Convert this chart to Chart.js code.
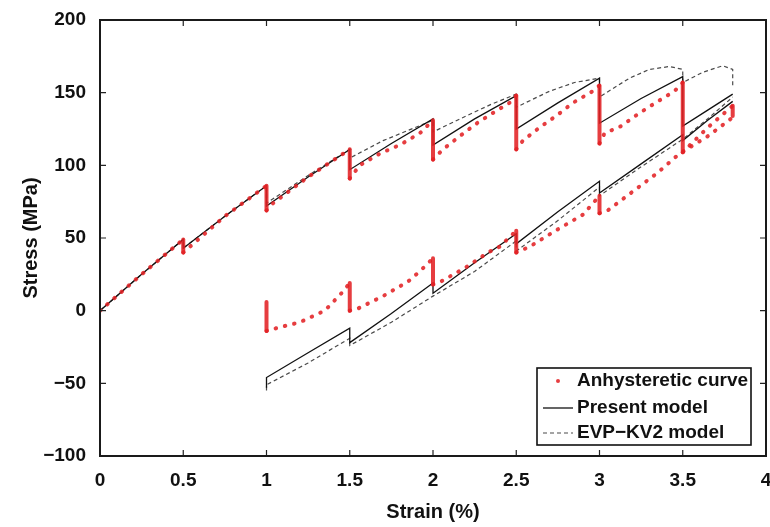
<!DOCTYPE html>
<html>
<head>
<meta charset="utf-8">
<title>Stress vs strain</title>
<script src="https://cdn.jsdelivr.net/npm/chart.js@4.4.0/dist/chart.umd.min.js"></script>
<style>
  html, body { margin: 0; padding: 0; background: #fff; }
</style>
</head>
<body>
<canvas id="stressChart" width="770" height="527"></canvas>
<script>
'use strict';

/* values: [strain %, stress MPa] */
const anhystUpper = [
    [0, 0], [0.25, 25], [0.5, 49], [0.5, 40], [0.54, 44], [0.75, 65], [1.0, 86], [1.0, 69],
    [1.04, 74], [1.25, 92], [1.5, 111], [1.5, 91], [1.56, 100], [1.68, 108], [1.8, 114],
    [1.92, 122], [2.0, 131], [2.0, 104], [2.06, 111], [2.16, 120], [2.27, 129.5], [2.38, 137.5],
    [2.46, 143], [2.5, 148], [2.5, 111], [2.54, 117], [2.64, 126], [2.74, 134], [2.84, 143],
    [2.96, 151], [3.0, 155], [3.0, 115], [3.03, 122], [3.13, 127], [3.24, 136], [3.35, 144],
    [3.45, 151], [3.5, 157], [3.5, 109], [3.65, 126], [3.8, 141], [3.8, 134]
];
const anhystLower = [
    [1.0, 6], [1.0, -14], [1.06, -12], [1.2, -8], [1.35, 0], [1.45, 12], [1.5, 19], [1.5, 0],
    [1.55, 1.5], [1.7, 10], [1.85, 20], [1.92, 27], [2.0, 36], [2.0, 18], [2.04, 19.5],
    [2.2, 30], [2.33, 40], [2.4, 44], [2.5, 55], [2.5, 40], [2.58, 44], [2.75, 56], [2.9, 66],
    [3.0, 79], [3.0, 67], [3.05, 69], [3.2, 82], [3.35, 95], [3.48, 108], [3.65, 120], [3.8, 133]
];
const presentUpper = [
    [0, 0], [0.25, 25], [0.5, 49], [0.5, 43], [0.75, 65], [1.0, 86], [1.0, 72], [1.25, 92],
    [1.5, 111], [1.5, 97], [1.75, 115], [2.0, 132], [2.0, 114], [2.25, 132], [2.5, 148],
    [2.5, 125], [2.75, 143], [3.0, 160], [3.0, 129], [3.25, 146], [3.5, 161], [3.5, 127],
    [3.65, 138], [3.8, 149]
];
const presentLower = [
    [1.0, -53], [1.0, -46], [1.25, -29], [1.5, -12], [1.5, -22], [1.75, -2], [2.0, 19],
    [2.0, 12], [2.25, 33], [2.5, 53], [2.5, 46], [2.75, 68], [3.0, 89], [3.0, 81],
    [3.25, 101], [3.5, 121], [3.5, 117], [3.65, 131], [3.8, 144]
];
const evpUpper = [
    [0, 0], [0.25, 25], [0.5, 49], [0.5, 43], [0.75, 65], [1.0, 86], [1.0, 74], [1.25, 93],
    [1.5, 111], [1.5, 105], [1.7, 117], [1.85, 124], [2.0, 131], [2.0, 123], [2.2, 134],
    [2.35, 142], [2.5, 149], [2.5, 140], [2.7, 151], [2.85, 157], [3.0, 160], [3.0, 147],
    [3.18, 160], [3.3, 166], [3.42, 168], [3.5, 166], [3.5, 157], [3.62, 164], [3.74, 168.5],
    [3.8, 166], [3.8, 153]
];
const evpLower = [
    [1.0, -55], [1.0, -51], [1.25, -36], [1.5, -19], [1.5, -24], [1.75, -8], [2.0, 10],
    [2.25, 27], [2.5, 48], [2.5, 41], [2.75, 62], [3.0, 85], [3.0, 79], [3.25, 99],
    [3.5, 118], [3.65, 132], [3.8, 147]
];

const seriesNames = ['Anhysteretic curve', 'Present model', 'EVP\u2212KV2 model'];
const xTicks = [0, 0.5, 1, 1.5, 2, 2.5, 3, 3.5, 4];
const yTicks = [-100, -50, 0, 50, 100, 150, 200];

const RED = 'rgba(226,34,38,0.88)';
const BLACK = '#111';
const GREY = '#4a4a4a';
const FONT = '"Liberation Sans", Arial, sans-serif';
const dotDash = [0.5, 9];

const toXY = arr => arr.map(p => ({ x: p[0], y: p[1] }));

// red curve: dotted along the path, solid bar where stress relaxes (vertical)
const redLine = (data) => ({
    data: toXY(data),
    borderColor: RED,
    borderWidth: 4,
    borderCapStyle: 'round',
    borderDash: dotDash,
    segment: {
        borderDash: ctx => ctx.p0.parsed.x === ctx.p1.parsed.x ? [] : dotDash
    }
});
const solidLine = (data) => ({
    data: toXY(data), borderColor: BLACK, borderWidth: 1.3
});
const dashLine = (data) => ({
    data: toXY(data), borderColor: GREY, borderWidth: 1.2, borderDash: [4, 3]
});

// Box frame + inward ticks on all 4 sides + legend in lower right
const framePlugin = {
    id: 'frame',
    afterDraw(chart) {
        const c = chart.ctx;
        const a = chart.chartArea;
        const sx = chart.scales.x, sy = chart.scales.y;
        c.save();
        c.strokeStyle = '#222';
        c.lineWidth = 1.2;
        c.beginPath();
        xTicks.forEach(v => {
            const px = sx.getPixelForValue(v);
            c.moveTo(px, a.bottom); c.lineTo(px, a.bottom - 6);
            c.moveTo(px, a.top); c.lineTo(px, a.top + 6);
        });
        yTicks.forEach(v => {
            const py = sy.getPixelForValue(v);
            c.moveTo(a.left, py); c.lineTo(a.left + 6, py);
            c.moveTo(a.right, py); c.lineTo(a.right - 6, py);
        });
        c.stroke();
        c.lineWidth = 2;
        c.strokeStyle = '#1a1a1a';
        c.strokeRect(a.left, a.top, a.right - a.left, a.bottom - a.top);

        // legend
        const w = 214, h = 77;
        const lx = a.right - 15 - w, ly = a.bottom - 11 - h;
        c.fillStyle = '#fff';
        c.fillRect(lx, ly, w, h);
        c.lineWidth = 1.6;
        c.strokeStyle = '#111';
        c.strokeRect(lx, ly, w, h);
        const rows = [ly + 13, ly + 40, ly + 65];
        c.fillStyle = RED;
        c.beginPath();
        c.arc(lx + 21, rows[0], 2, 0, Math.PI * 2);
        c.fill();
        c.strokeStyle = BLACK; c.lineWidth = 1.3;
        c.beginPath(); c.moveTo(lx + 6, rows[1]); c.lineTo(lx + 36, rows[1]); c.stroke();
        c.strokeStyle = GREY; c.lineWidth = 1.2; c.setLineDash([4, 3]);
        c.beginPath(); c.moveTo(lx + 6, rows[2]); c.lineTo(lx + 36, rows[2]); c.stroke();
        c.setLineDash([]);
        c.fillStyle = '#111';
        c.font = 'bold 19px ' + FONT;
        c.textBaseline = 'middle';
        seriesNames.forEach((n, i) => c.fillText(n, lx + 40, rows[i], w - 42));
        c.restore();
    }
};

new Chart(document.getElementById('stressChart'), {
    type: 'scatter',
    data: {
        datasets: [
            redLine(anhystUpper),
            redLine(anhystLower),
            solidLine(presentUpper),
            solidLine(presentLower),
            dashLine(evpUpper),
            dashLine(evpLower)
        ]
    },
    options: {
        responsive: false,
        animation: false,
        showLine: true,
        elements: { point: { radius: 0, hoverRadius: 0 }, line: { tension: 0, fill: false } },
        layout: { padding: { top: 20, right: 4, left: 0, bottom: 0 }, autoPadding: false },
        plugins: { legend: { display: false }, tooltip: { enabled: false } },
        scales: {
            x: {
                type: 'linear', min: 0, max: 4,
                grid: { display: false },
                border: { display: false },
                afterFit: s => { s.height = 71; s.paddingLeft = 0; s.paddingRight = 0; },
                afterBuildTicks: s => { s.ticks = xTicks.map(v => ({ value: v })); },
                ticks: {
                    padding: 5, color: '#111', maxRotation: 0,
                    font: { family: FONT, size: 19, weight: 'bold' },
                    callback: v => String(v)
                },
                title: {
                    display: true, text: 'Strain (%)', color: '#111',
                    font: { family: FONT, size: 20, weight: 'bold' }, padding: { top: 0, bottom: 3 }
                }
            },
            y: {
                type: 'linear', min: -100, max: 200,
                grid: { display: false },
                border: { display: false },
                afterFit: s => { s.width = 100; s.paddingTop = 0; s.paddingBottom = 0; },
                afterBuildTicks: s => { s.ticks = yTicks.map(v => ({ value: v })); },
                ticks: {
                    padding: 6, color: '#111',
                    font: { family: FONT, size: 19, weight: 'bold' },
                    callback: v => String(v).replace('-', '\u2212')
                },
                title: {
                    display: true, text: 'Stress (MPa)', color: '#111',
                    font: { family: FONT, size: 20, weight: 'bold' }, padding: { top: 19, bottom: 0 }
                }
            }
        }
    },
    plugins: [framePlugin]
});
</script>
</body>
</html>
